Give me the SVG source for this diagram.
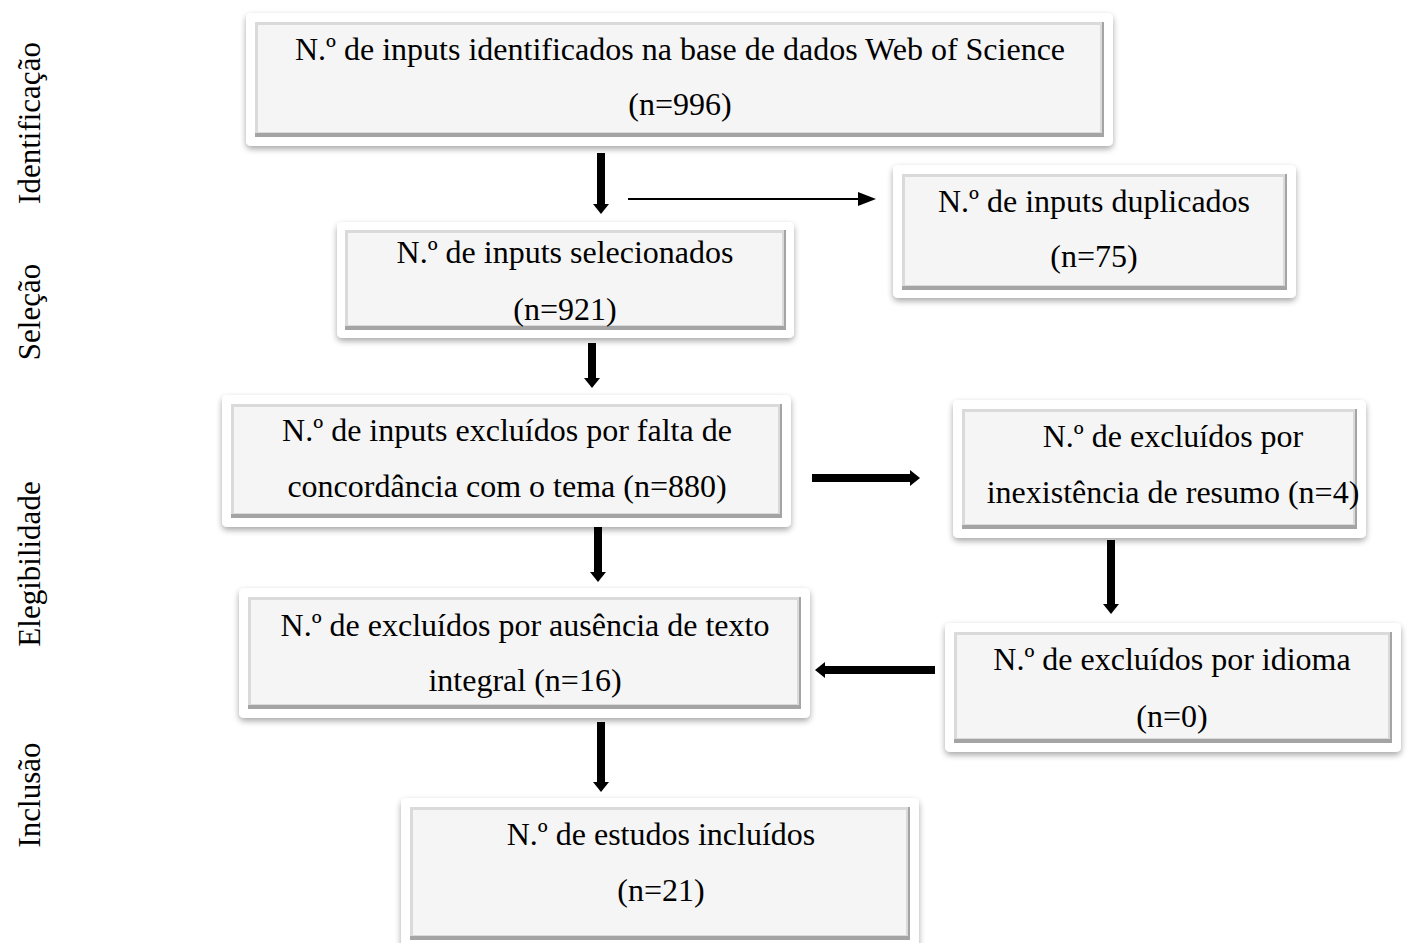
<svg xmlns="http://www.w3.org/2000/svg" width="1409" height="943" viewBox="0 0 1409 943">
<style>
.t{font-family:"Liberation Serif","Times New Roman",serif;font-size:32px;fill:#000;text-anchor:middle}
.side{font-family:"Liberation Serif","Times New Roman",serif;font-size:31px;fill:#000;text-anchor:middle}
.outer{fill:#fff;filter:url(#sh)}
.bevd{fill:#a4a4a4}
.bevl{fill:#dadada}
.face{fill:#f5f5f5}
.thick{stroke:#000;stroke-width:8;fill:none}
.thin{stroke:#000;stroke-width:2;fill:none}
</style>
<defs>
<filter id="sh" x="-10%" y="-20%" width="120%" height="150%">
<feGaussianBlur in="SourceAlpha" stdDeviation="3"/>
<feOffset dx="0" dy="3" result="b"/>
<feComponentTransfer><feFuncA type="linear" slope="0.35"/></feComponentTransfer>
<feMerge><feMergeNode/><feMergeNode in="SourceGraphic"/></feMerge>
</filter>
</defs>
<rect width="1409" height="943" fill="#fff"/>

<g id="side-labels">
<text class="side" transform="translate(40,123) rotate(-90)">Identificação</text>
<text class="side" transform="translate(40,312) rotate(-90)">Seleção</text>
<text class="side" transform="translate(40,564) rotate(-90)">Elegibilidade</text>
<text class="side" transform="translate(40,795) rotate(-90)">Inclusão</text>
</g>

<g id="n1">
<rect class="outer" x="246" y="13" width="867" height="133" rx="5"/>
<rect class="bevd" x="255" y="22" width="849" height="115"/>
<rect class="bevl" x="255" y="22" width="847" height="111"/>
<rect class="face" x="258" y="25" width="842" height="107"/>
<text class="t" x="680" y="60">N.º de inputs identificados na base de dados Web of Science</text>
<text class="t" x="680" y="115">(n=996)</text>
</g>

<g id="n2">
<rect class="outer" x="893" y="165" width="403" height="133" rx="5"/>
<rect class="bevd" x="902" y="174" width="385" height="116"/>
<rect class="bevl" x="902" y="174" width="383" height="112"/>
<rect class="face" x="905" y="177" width="378" height="108"/>
<text class="t" x="1094" y="212">N.º de inputs duplicados</text>
<text class="t" x="1094" y="267">(n=75)</text>
</g>

<g id="n3">
<rect class="outer" x="337" y="222" width="457" height="116" rx="5"/>
<rect class="bevd" x="345" y="230" width="441" height="100"/>
<rect class="bevl" x="345" y="230" width="439" height="96"/>
<rect class="face" x="348" y="233" width="434" height="92"/>
<text class="t" x="565" y="263">N.º de inputs selecionados</text>
<text class="t" x="565" y="320">(n=921)</text>
</g>

<g id="n4">
<rect class="outer" x="222" y="395" width="569" height="132" rx="5"/>
<rect class="bevd" x="231" y="404" width="551" height="114"/>
<rect class="bevl" x="231" y="404" width="549" height="110"/>
<rect class="face" x="234" y="407" width="544" height="106"/>
<text class="t" x="507" y="441">N.º de inputs excluídos por falta de</text>
<text class="t" x="507" y="497">concordância com o tema (n=880)</text>
</g>

<g id="n5">
<rect class="outer" x="953" y="400" width="413" height="138" rx="5"/>
<rect class="bevd" x="962" y="409" width="395" height="120"/>
<rect class="bevl" x="962" y="409" width="393" height="116"/>
<rect class="face" x="965" y="412" width="388" height="112"/>
<text class="t" x="1173" y="447">N.º de excluídos por</text>
<text class="t" x="1173" y="503">inexistência de resumo (n=4)</text>
</g>

<g id="n6">
<rect class="outer" x="239" y="588" width="571" height="130" rx="5"/>
<rect class="bevd" x="248" y="597" width="553" height="112"/>
<rect class="bevl" x="248" y="597" width="551" height="108"/>
<rect class="face" x="251" y="600" width="546" height="104"/>
<text class="t" x="525" y="636">N.º de excluídos por ausência de texto</text>
<text class="t" x="525" y="691">integral (n=16)</text>
</g>

<g id="n7">
<rect class="outer" x="945" y="623" width="456" height="129" rx="5"/>
<rect class="bevd" x="954" y="632" width="438" height="111"/>
<rect class="bevl" x="954" y="632" width="436" height="107"/>
<rect class="face" x="957" y="635" width="431" height="103"/>
<text class="t" x="1172" y="670">N.º de excluídos por idioma</text>
<text class="t" x="1172" y="727">(n=0)</text>
</g>

<g id="n8">
<rect class="outer" x="401" y="798" width="518" height="150" rx="5"/>
<rect class="bevd" x="410" y="807" width="500" height="133"/>
<rect class="bevl" x="410" y="807" width="498" height="129"/>
<rect class="face" x="413" y="810" width="493" height="125"/>
<text class="t" x="661" y="845">N.º de estudos incluídos</text>
<text class="t" x="661" y="901">(n=21)</text>
</g>

<g id="connectors">
<path class="thick" d="M601,153 V205"/>
<path d="M593,204 L609,204 L601,214 z"/>
<path class="thin" d="M628,199 H860"/>
<path d="M858,192 L876,199 L858,206 z"/>
<path class="thick" d="M592,343 V379"/>
<path d="M584,378 L600,378 L592,388 z"/>
<path class="thick" d="M812,478 H911"/>
<path d="M910,470 L920,478 L910,486 z"/>
<path class="thick" d="M598,527 V573"/>
<path d="M590,572 L606,572 L598,582 z"/>
<path class="thick" d="M1111,540 V605"/>
<path d="M1103,604 L1119,604 L1111,614 z"/>
<path class="thick" d="M935,670 H824"/>
<path d="M825,662 L815,670 L825,678 z"/>
<path class="thick" d="M601,722 V783"/>
<path d="M593,782 L609,782 L601,792 z"/>
</g>
</svg>
